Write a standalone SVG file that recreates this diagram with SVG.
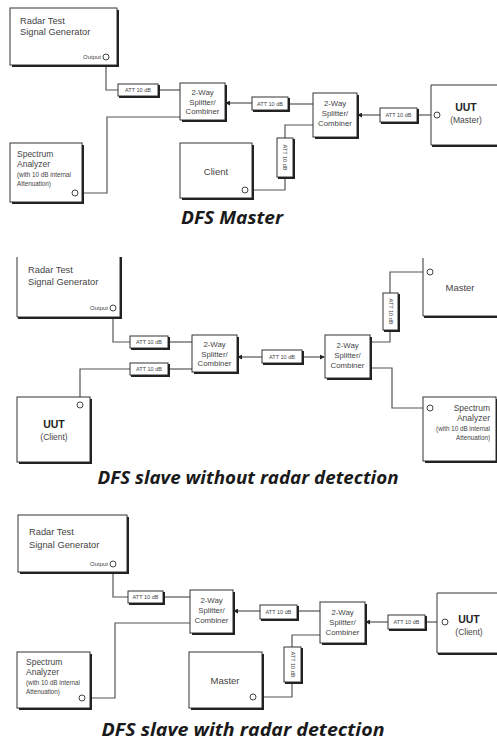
<svg xmlns="http://www.w3.org/2000/svg" width="497" height="742" viewBox="0 0 497 742">
<style>
.box{fill:#fff;stroke:#333;stroke-width:1}
.sh{fill:none;stroke:#222;stroke-width:2}
.ln{fill:none;stroke:#555;stroke-width:1.2}
.pt{fill:#fff;stroke:#444;stroke-width:1}
.t{font-family:"Liberation Sans",Arial,sans-serif;fill:#444}
.big{font-size:9.3px}
.s1{font-size:8.5px}
.s2{font-size:6.3px}
.xs{font-size:5.5px;text-anchor:middle}
.op{font-size:6px;text-anchor:end}
.sp{font-size:7.8px;text-anchor:middle}
.nm{font-size:9.5px;text-anchor:middle}
.c{text-anchor:middle}
.e{text-anchor:end}
.b{font-weight:bold;fill:#222}
.title{font-family:"Open Sans","Liberation Sans",sans-serif;font-weight:700;font-style:italic;font-size:17px;fill:#1a1a1a;text-anchor:middle}
</style>
<defs>
<marker id="arr" viewBox="0 0 6 6" refX="5" refY="3" markerWidth="5" markerHeight="5" markerUnits="userSpaceOnUse" orient="auto">
<path d="M0,0 L6,3 L0,6 Z" fill="#222"/>
</marker>
</defs>
<rect width="497" height="742" fill="#fff"/>

<g id="connectors">
<path class="ln" d="M106,60 V90 H118"/>
<path class="ln" d="M158,90 H180"/>
<path class="ln" d="M78,193 H107 V117 H180"/>
<path class="ln" d="M252,103 H226" marker-end="url(#arr)"/>
<path class="ln" d="M288,104 H313"/>
<path class="ln" d="M380,115 H358" marker-end="url(#arr)"/>
<path class="ln" d="M417,115 H434"/>
<path class="ln" d="M313,125 H285 V138"/>
<path class="ln" d="M285,177 V190 H248"/>
<path class="ln" d="M113,311 V342 H130"/>
<path class="ln" d="M168,342 H192"/>
<path class="ln" d="M192,369 H168"/>
<path class="ln" d="M130,369 H80 V402"/>
<path class="ln" d="M262,357 H238" marker-end="url(#arr)"/>
<path class="ln" d="M302,357 H324" marker-end="url(#arr)"/>
<path class="ln" d="M370,342 H390 V330"/>
<path class="ln" d="M390,293 V272 H427"/>
<path class="ln" d="M370,368 H392 V408 H427"/>
<path class="ln" d="M113,567 V597 H128"/>
<path class="ln" d="M163,597 H190"/>
<path class="ln" d="M85,698 H115 V623 H190"/>
<path class="ln" d="M260,611 H234" marker-end="url(#arr)"/>
<path class="ln" d="M297,611 H320"/>
<path class="ln" d="M388,622 H366" marker-end="url(#arr)"/>
<path class="ln" d="M425,622 H442"/>
<path class="ln" d="M320,635 H292 V647"/>
<path class="ln" d="M292,682 V697 H256"/>
</g>

<!-- ===== Section 1: DFS Master ===== -->
<g id="gen1">
<rect class="box" x="10" y="8" width="107" height="57"/>
<path class="sh" d="M118,10 V66 H12"/>
<text class="t big" x="20" y="24">Radar Test</text>
<text class="t big" x="20" y="35">Signal Generator</text>
<text class="t op" x="101" y="59">Output</text>
<circle class="pt" cx="106" cy="57" r="3"/>
</g>
<g id="att1a">
<rect class="box" x="118" y="84" width="40" height="12"/>
<path class="sh" d="M159,85 V97 H119"/>
<text class="t xs" x="138" y="92">ATT 10 dB</text>
</g>
<g id="split1a">
<rect class="box" x="180" y="83" width="45" height="37"/>
<path class="sh" d="M226,85 V121 H182"/>
<text class="t sp" x="202.5" y="95">2-Way</text>
<text class="t sp" x="202.5" y="104.5">Splitter/</text>
<text class="t sp" x="202.5" y="114">Combiner</text>
</g>
<g id="sa1">
<rect class="box" x="10" y="143" width="72" height="59"/>
<path class="sh" d="M83,145 V203 H12"/>
<text class="t s1" x="17" y="157">Spectrum</text>
<text class="t s1" x="17" y="167">Analyzer</text>
<text class="t s2" x="17" y="177">(with 10 dB internal</text>
<text class="t s2" x="17" y="186">Attenuation)</text>
<circle class="pt" cx="75" cy="193" r="3"/>
</g>
<g id="att1b">
<rect class="box" x="252" y="97" width="36" height="13"/>
<path class="sh" d="M289,98 V111 H253"/>
<text class="t xs" x="270" y="105.5">ATT 10 dB</text>
</g>
<g id="split1b">
<rect class="box" x="313" y="93" width="44" height="44"/>
<path class="sh" d="M358,95 V138 H315"/>
<text class="t sp" x="335" y="106">2-Way</text>
<text class="t sp" x="335" y="116">Splitter/</text>
<text class="t sp" x="335" y="126">Combiner</text>
</g>
<g id="att1c">
<rect class="box" x="380" y="108" width="37" height="14"/>
<path class="sh" d="M418,109 V123 H381"/>
<text class="t xs" x="398.5" y="117">ATT 10 dB</text>
</g>
<g id="uut1">
<path class="box" d="M497,85 H431 V145 H497" fill="none"/>
<path class="sh" d="M432,146 H497"/>
<circle class="pt" cx="437" cy="115" r="3"/>
<text class="t b c" x="466" y="111" font-size="10.5">UUT</text>
<text class="t c" x="466" y="123" font-size="8.5">(Master)</text>
</g>
<g id="att1d">
<rect class="box" x="277" y="138" width="16" height="39"/>
<path class="sh" d="M294,139 V178 H278"/>
<text class="t xs" transform="translate(285,157.5) rotate(90)" y="2">ATT 10 dB</text>
</g>
<g id="client1">
<rect class="box" x="180" y="143" width="72" height="55"/>
<path class="sh" d="M253,145 V199 H182"/>
<text class="t nm" x="216" y="175">Client</text>
<circle class="pt" cx="245" cy="190" r="3"/>
</g>
<g id="title1">
<text class="title" x="232" y="224" textLength="102" lengthAdjust="spacingAndGlyphs">DFS Master</text>
</g>

<!-- ===== Section 2: DFS slave without radar detection ===== -->
<g id="gen2">
<path fill="#fff" stroke="#333" stroke-width="1" d="M17,257 V317 H120 V257"/>
<path class="sh" d="M121,257 V318 H18"/>
<text class="t big" x="28" y="273">Radar Test</text>
<text class="t big" x="28" y="285">Signal Generator</text>
<text class="t op" x="108" y="310">Output</text>
<circle class="pt" cx="113" cy="308" r="3"/>
</g>
<g id="att2a">
<rect class="box" x="130" y="336" width="38" height="12"/>
<path class="sh" d="M169,337 V349 H131"/>
<text class="t xs" x="149" y="344">ATT 10 dB</text>
</g>
<g id="att2b">
<rect class="box" x="130" y="363" width="38" height="12"/>
<path class="sh" d="M169,364 V376 H131"/>
<text class="t xs" x="149" y="371">ATT 10 dB</text>
</g>
<g id="split2a">
<rect class="box" x="192" y="335" width="45" height="37"/>
<path class="sh" d="M238,337 V373 H194"/>
<text class="t sp" x="214.5" y="347">2-Way</text>
<text class="t sp" x="214.5" y="356.5">Splitter/</text>
<text class="t sp" x="214.5" y="366">Combiner</text>
</g>
<g id="uut2">
<rect class="box" x="17" y="397" width="73" height="65"/>
<path class="sh" d="M91,399 V463 H19"/>
<circle class="pt" cx="80" cy="405" r="3"/>
<text class="t b c" x="54" y="428" font-size="10.5">UUT</text>
<text class="t c" x="54" y="440" font-size="8.5">(Client)</text>
</g>
<g id="att2c">
<rect class="box" x="262" y="350" width="40" height="13"/>
<path class="sh" d="M303,351 V364 H263"/>
<text class="t xs" x="282" y="358.5">ATT 10 dB</text>
</g>
<g id="split2b">
<rect class="box" x="325" y="335" width="45" height="43"/>
<path class="sh" d="M371,337 V379 H327"/>
<text class="t sp" x="347.5" y="348">2-Way</text>
<text class="t sp" x="347.5" y="358">Splitter/</text>
<text class="t sp" x="347.5" y="368">Combiner</text>
</g>
<g id="att2d">
<rect class="box" x="383" y="293" width="15" height="37"/>
<path class="sh" d="M399,294 V331 H384"/>
<text class="t xs" transform="translate(390.5,311.5) rotate(90)" y="2">ATT 10 dB</text>
</g>
<g id="master2">
<path fill="#fff" stroke="#333" stroke-width="1" d="M423,258 V316 H497"/>
<path class="sh" d="M424,317 H497"/>
<circle class="pt" cx="430" cy="272" r="3"/>
<text class="t nm" x="460" y="291">Master</text>
</g>
<g id="sa2">
<rect class="box" x="423" y="397" width="73" height="64"/>
<path class="sh" d="M497,399 V462 H425"/>
<circle class="pt" cx="430" cy="408" r="3"/>
<text class="t e s1" x="490" y="411">Spectrum</text>
<text class="t e s1" x="490" y="421">Analyzer</text>
<text class="t e s2" x="490" y="431">(with 10 dB internal</text>
<text class="t e s2" x="490" y="440">Attenuation)</text>
</g>
<g id="title2">
<text class="title" x="248" y="484" textLength="301" lengthAdjust="spacingAndGlyphs">DFS slave without radar detection</text>
</g>

<!-- ===== Section 3: DFS slave with radar detection ===== -->
<g id="gen3">
<rect class="box" x="18" y="515" width="109" height="57"/>
<path class="sh" d="M128,517 V573 H20"/>
<text class="t big" x="29" y="535">Radar Test</text>
<text class="t big" x="29" y="548">Signal Generator</text>
<text class="t op" x="108" y="566">Output</text>
<circle class="pt" cx="113" cy="564" r="3"/>
</g>
<g id="att3a">
<rect class="box" x="128" y="591" width="35" height="12"/>
<path class="sh" d="M164,592 V604 H129"/>
<text class="t xs" x="145.5" y="599">ATT 10 dB</text>
</g>
<g id="split3a">
<rect class="box" x="190" y="590" width="43" height="43"/>
<path class="sh" d="M234,592 V634 H192"/>
<text class="t sp" x="211.5" y="603">2-Way</text>
<text class="t sp" x="211.5" y="613">Splitter/</text>
<text class="t sp" x="211.5" y="623">Combiner</text>
</g>
<g id="sa3">
<rect class="box" x="17" y="652" width="73" height="56"/>
<path class="sh" d="M91,654 V709 H19"/>
<text class="t s1" x="26" y="665">Spectrum</text>
<text class="t s1" x="26" y="675">Analyzer</text>
<text class="t s2" x="26" y="685">(with 10 dB internal</text>
<text class="t s2" x="26" y="694">Attenuation)</text>
<circle class="pt" cx="82" cy="698" r="3"/>
</g>
<g id="att3b">
<rect class="box" x="260" y="605" width="37" height="14"/>
<path class="sh" d="M298,606 V620 H261"/>
<text class="t xs" x="278.5" y="614">ATT 10 dB</text>
</g>
<g id="split3b">
<rect class="box" x="320" y="602" width="45" height="41"/>
<path class="sh" d="M366,604 V644 H322"/>
<text class="t sp" x="342.5" y="615">2-Way</text>
<text class="t sp" x="342.5" y="625">Splitter/</text>
<text class="t sp" x="342.5" y="635">Combiner</text>
</g>
<g id="att3c">
<rect class="box" x="388" y="615" width="37" height="14"/>
<path class="sh" d="M426,616 V630 H389"/>
<text class="t xs" x="406.5" y="624">ATT 10 dB</text>
</g>
<g id="uut3">
<path fill="#fff" stroke="#333" stroke-width="1" d="M497,593 H437 V653 H497"/>
<path class="sh" d="M438,654 H497"/>
<circle class="pt" cx="445" cy="622" r="3"/>
<text class="t b c" x="469" y="623" font-size="10.5">UUT</text>
<text class="t c" x="469" y="635" font-size="8.5">(Client)</text>
</g>
<g id="att3d">
<rect class="box" x="284" y="647" width="17" height="35"/>
<path class="sh" d="M302,648 V683 H285"/>
<text class="t xs" transform="translate(292.5,664.5) rotate(90)" y="2">ATT 10 dB</text>
</g>
<g id="master3">
<rect class="box" x="189" y="652" width="73" height="56"/>
<path class="sh" d="M263,654 V709 H191"/>
<text class="t nm" x="225" y="684">Master</text>
<circle class="pt" cx="253" cy="697" r="3"/>
</g>
<g id="title3">
<text class="title" x="243" y="736" textLength="283" lengthAdjust="spacingAndGlyphs">DFS slave with radar detection</text>
</g>
</svg>
